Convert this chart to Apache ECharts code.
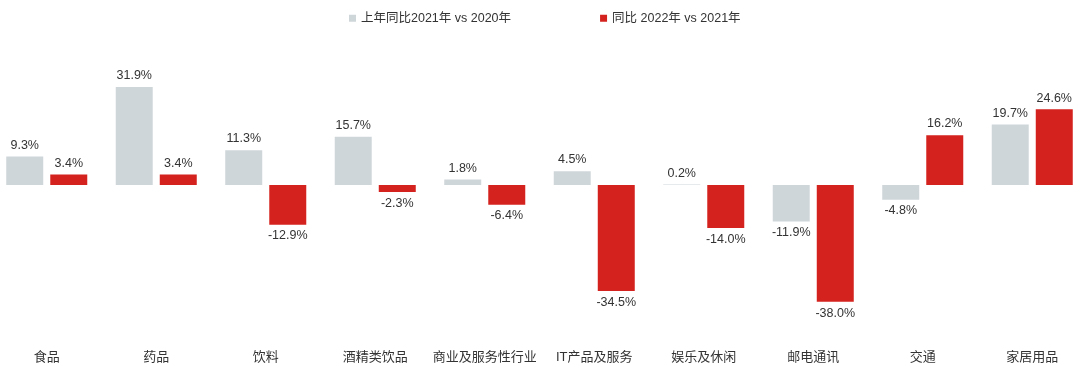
<!DOCTYPE html>
<html><head><meta charset="utf-8">
<script src="https://cdn.jsdelivr.net/npm/echarts@6/dist/echarts.min.js"></script>
<style>html,body{margin:0;padding:0;background:#fff;overflow:hidden;width:1080px;height:374px}#c{width:1095px;height:374px;margin-left:-8px}</style>
</head><body><div id="c"></div>
<script>
const categories = ['食品','药品','饮料','酒精类饮品','商业及服务性行业','IT产品及服务','娱乐及休闲','邮电通讯','交通','家居用品'];
const seriesNames = ['上年同比2021年 vs 2020年','同比 2022年 vs 2021年'];
const prevYoY = [9.3, 31.9, 11.3, 15.7, 1.8, 4.5, 0.2, -11.9, -4.8, 19.7];
const currYoY = [3.4, 3.4, -12.9, -2.3, -6.4, -34.5, -14.0, -38.0, 16.2, 24.6];

const FONT = '"Liberation Sans", Arial, "Noto Sans CJK SC", sans-serif';
function withLabels(arr){
  return arr.map(v => ({value: v, label: {position: v >= 0 ? 'top' : 'bottom'}}));
}
const chart = echarts.init(document.getElementById('c'));
chart.setOption({
  animation: false,
  textStyle: {fontFamily: FONT},
  legend: {
    top: 7, left: 352, itemGap: 89, itemWidth: 7, itemHeight: 7, icon: 'rect',
    textStyle: {fontSize: 12.5, color: '#333', fontFamily: FONT}
  },
  grid: {left: 0, right: 0, top: 62, bottom: 66, containLabel: false},
  xAxis: {
    type: 'category', data: categories, position: 'bottom',
    axisLine: {show: false}, axisTick: {show: false},
    axisLabel: {margin: 43, fontSize: 13, color: '#333', fontFamily: FONT, interval: 0}
  },
  yAxis: {type: 'value', min: -40, max: 40, show: false, splitLine: {show: false}},
  series: [
    {name: seriesNames[0], type: 'bar', data: withLabels(prevYoY), barWidth: 37, barGap: '19%',
     itemStyle: {color: '#cfd6da'},
     label: {show: true, fontSize: 12.5, color: '#333', distance: 5, fontFamily: FONT, formatter: p => p.value.toFixed(1) + '%'}},
    {name: seriesNames[1], type: 'bar', data: withLabels(currYoY), barWidth: 37,
     itemStyle: {color: '#d4231f'},
     label: {show: true, fontSize: 12.5, color: '#333', distance: 5, fontFamily: FONT, formatter: p => p.value.toFixed(1) + '%'}}
  ]
});
</script></body></html>
